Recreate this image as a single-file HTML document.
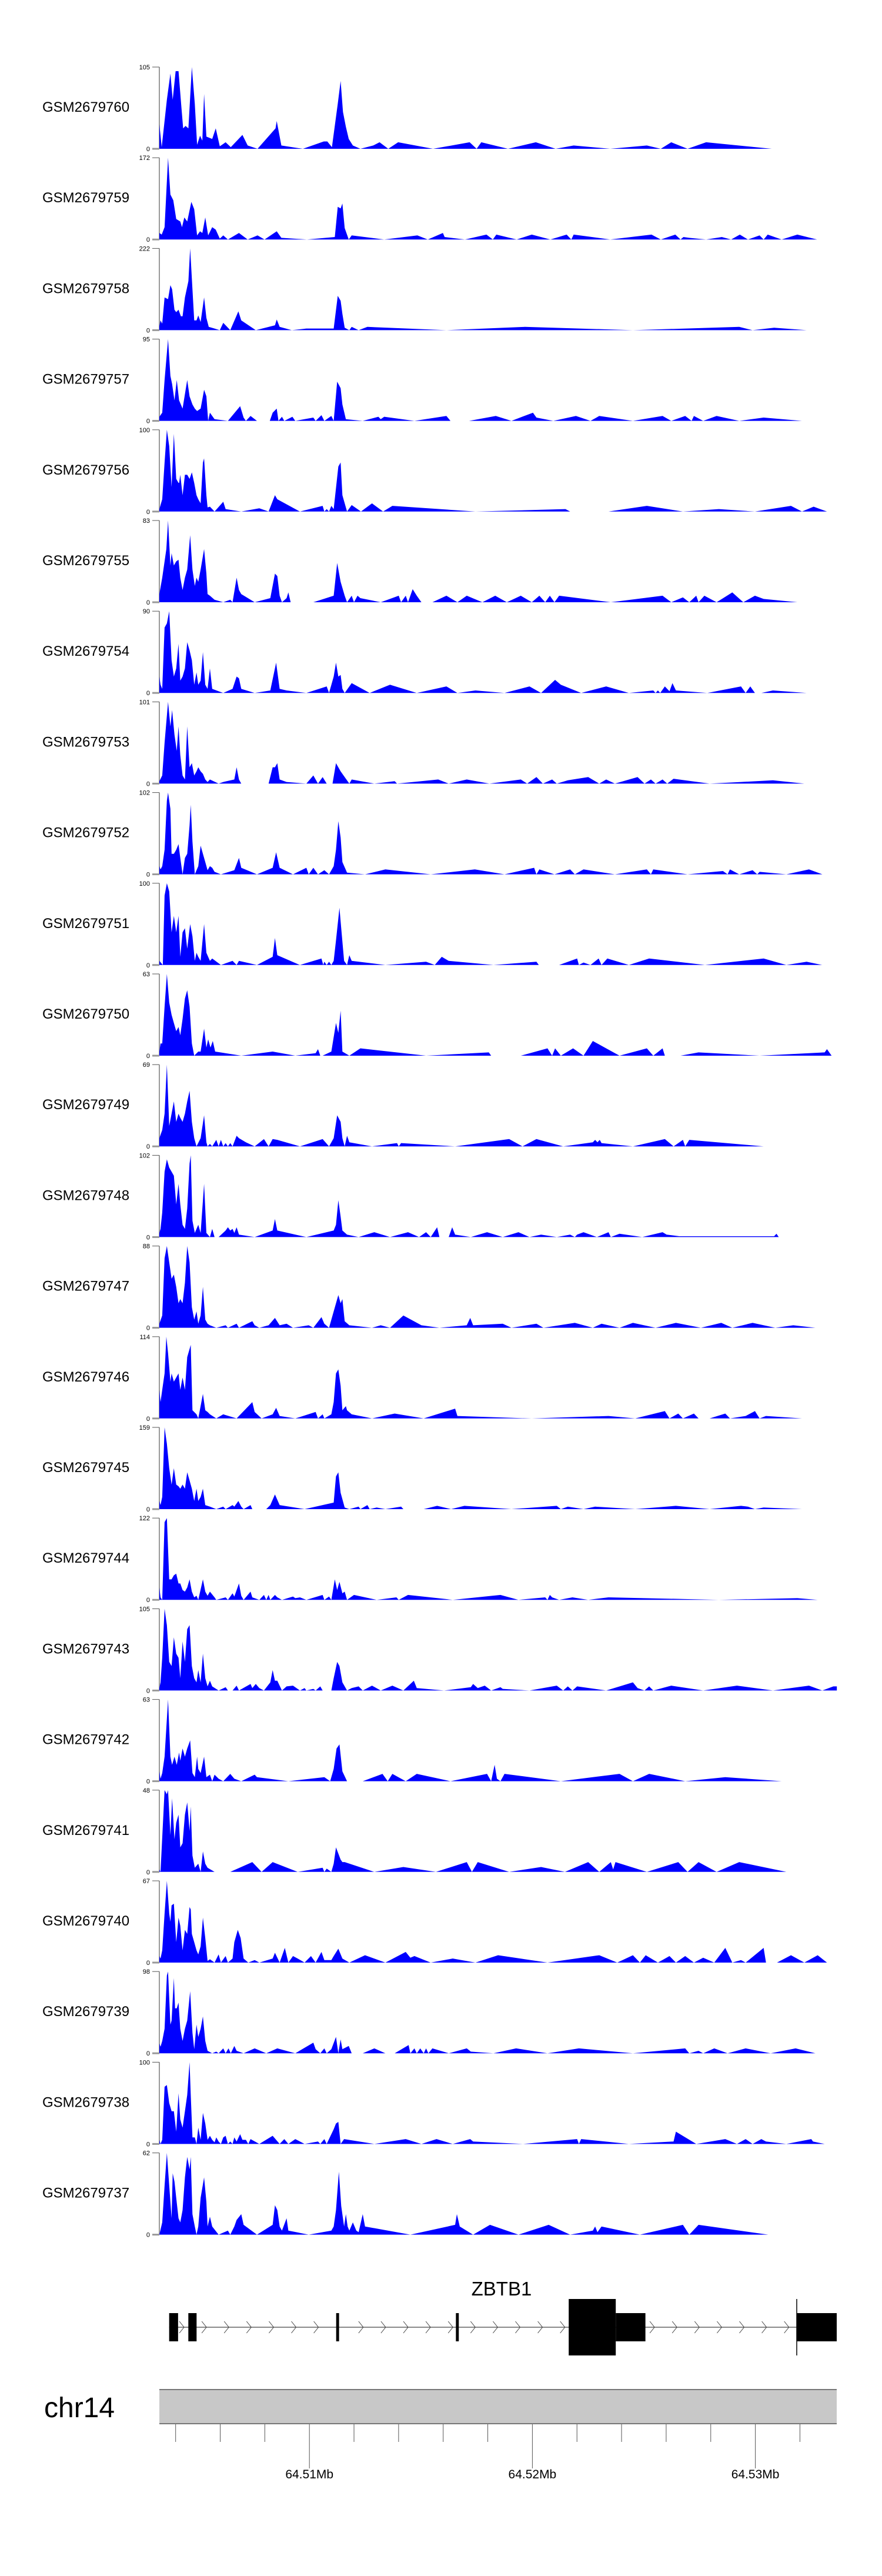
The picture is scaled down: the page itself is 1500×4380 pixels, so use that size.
<!DOCTYPE html>
<html><head><meta charset="utf-8"><style>
html,body{margin:0;padding:0;background:#fff;}
svg{display:block;font-family:"Liberation Sans",Arial,sans-serif;}
</style></head><body>
<svg id="chart" width="1500" height="4380" viewBox="0 0 1500 4380" xmlns="http://www.w3.org/2000/svg"></svg>
<script>
// ---- data ----
const sampleNames=["GSM2679760","GSM2679759","GSM2679758","GSM2679757","GSM2679756","GSM2679755","GSM2679754","GSM2679753","GSM2679752","GSM2679751","GSM2679750","GSM2679749","GSM2679748","GSM2679747","GSM2679746","GSM2679745","GSM2679744","GSM2679743","GSM2679742","GSM2679741","GSM2679740","GSM2679739","GSM2679738","GSM2679737"];
const yMaxLabels=[105,172,222,95,100,83,90,101,102,100,63,69,102,88,114,159,122,105,63,48,67,98,100,62];
const regionStartBp=64503270, regionEndBp=64533650, binSizeBp=26.06;
const axisTicksMb=[64.504,64.506,64.508,64.51,64.512,64.514,64.516,64.518,64.52,64.522,64.524,64.526,64.528,64.53,64.532];
const axisLabelsMb=[64.51,64.52,64.53];
// coverage as [genomic bin, % of track max]
const cov0=[[0,30],[4,2],[13,60],[19,92],[23,60],[28,95],[33,95],[38,50],[41,25],[45,28],[50,25],[56,100],[61,55],[65,5],[70,16],[74,10],[77,67],[81,15],[91,12],[97,25],[104,3],[114,8],[123,2],[143,17],[152,4],[169,0],[200,25],[202,34],[210,4],[247,0],[283,9],[289,9],[297,2],[307,55],[312,83],[316,45],[321,27],[326,12],[333,4],[346,0],[368,4],[379,8],[394,0],[411,8],[471,0],[534,8],[546,0],[554,8],[600,0],[648,8],[682,0],[713,4],[776,0],[839,4],[863,0],[881,8],[909,0],[941,8],[1054,0]];
const cov1=[[0,8],[4,6],[9,15],[15,100],[19,55],[24,48],[29,25],[36,22],[39,15],[43,27],[48,22],[55,46],[60,37],[65,5],[70,10],[74,8],[79,27],[84,5],[91,15],[97,12],[104,1],[110,5],[118,0],[137,8],[152,0],[169,5],[181,0],[202,10],[210,2],[254,0],[302,3],[307,40],[312,38],[315,44],[319,14],[326,0],[331,5],[387,0],[444,5],[462,0],[488,8],[491,3],[526,0],[563,6],[574,0],[580,6],[615,0],[641,6],[673,0],[701,6],[709,0],[713,6],[776,0],[847,6],[863,0],[888,6],[897,0],[902,3],[912,2],[941,0],[968,3],[984,0],[999,6],[1013,0],[1033,5],[1040,0],[1047,6],[1071,0],[1098,6],[1132,0]];
const cov2=[[0,5],[2,12],[5,8],[9,40],[15,38],[19,55],[22,50],[26,25],[29,22],[33,25],[37,17],[40,17],[44,40],[50,60],[53,100],[57,50],[60,12],[64,12],[67,18],[71,10],[77,40],[81,15],[85,4],[95,2],[104,0],[110,9],[122,0],[136,23],[141,12],[166,0],[199,6],[202,13],[207,4],[228,0],[253,2],[300,2],[307,42],[312,36],[315,20],[319,3],[327,0],[331,4],[343,0],[358,4],[494,0],[629,4],[815,0],[998,4],[1021,0],[1058,3],[1114,0]];
const cov3=[[0,5],[5,10],[9,50],[15,100],[19,55],[22,45],[26,25],[30,50],[34,25],[40,15],[48,50],[52,30],[57,20],[61,15],[65,12],[71,15],[77,38],[81,30],[84,0],[87,10],[95,2],[118,0],[139,18],[145,4],[149,0],[157,6],[168,0],[190,0],[195,10],[202,15],[205,0],[211,5],[215,0],[229,5],[234,0],[265,4],[269,0],[279,7],[284,0],[296,6],[300,0],[306,48],[312,40],[315,20],[321,2],[350,0],[377,5],[381,2],[387,5],[439,0],[494,6],[501,0],[533,0],[564,4],[579,6],[606,0],[643,10],[649,4],[678,0],[717,6],[742,0],[757,6],[815,0],[866,6],[881,0],[905,6],[916,0],[920,6],[936,0],[959,6],[998,0],[1040,4],[1106,0]];
const cov4=[[0,3],[5,15],[9,60],[13,100],[17,80],[21,30],[25,95],[29,40],[33,35],[34,35],[36,45],[40,20],[44,45],[48,45],[52,40],[56,48],[60,35],[64,20],[67,15],[71,10],[75,60],[77,65],[81,20],[83,5],[87,6],[95,0],[110,12],[114,3],[141,0],[172,4],[188,0],[199,20],[203,15],[242,0],[281,7],[284,0],[288,3],[292,0],[296,7],[300,3],[308,55],[312,60],[315,20],[323,0],[331,8],[347,0],[362,8],[366,10],[385,0],[401,7],[544,0],[699,3],[707,0],[773,0],[839,7],[901,0],[963,3],[1025,0],[1087,7],[1106,0],[1126,6],[1149,0]];
const cov5=[[0,10],[5,30],[9,50],[12,65],[15,100],[19,45],[21,60],[25,45],[29,50],[33,52],[36,30],[40,15],[44,30],[48,40],[53,82],[57,40],[61,20],[64,30],[67,25],[71,40],[77,65],[81,35],[83,10],[87,8],[95,3],[110,0],[122,3],[126,0],[133,30],[137,15],[141,10],[164,0],[191,5],[199,35],[203,32],[207,8],[211,0],[219,5],[222,12],[226,0],[265,0],[300,8],[306,48],[312,25],[319,8],[323,0],[331,8],[335,0],[341,8],[346,5],[381,0],[412,8],[416,0],[424,8],[428,0],[436,16],[443,8],[451,0],[470,0],[494,8],[513,0],[529,8],[556,0],[578,8],[598,0],[622,8],[641,0],[654,8],[664,0],[672,8],[680,0],[688,8],[777,0],[866,8],[881,0],[901,6],[912,0],[924,8],[928,0],[938,8],[959,0],[986,12],[1005,0],[1025,8],[1040,4],[1098,0]];
const cov6=[[0,20],[2,10],[5,5],[9,80],[13,85],[17,100],[21,40],[25,20],[29,30],[33,60],[36,15],[40,20],[44,30],[48,62],[52,52],[56,40],[60,10],[64,25],[67,10],[71,15],[75,50],[79,10],[83,5],[87,30],[91,5],[102,2],[110,0],[126,5],[133,20],[137,18],[141,5],[164,0],[191,3],[201,37],[207,5],[219,3],[253,0],[288,8],[292,0],[300,20],[304,37],[308,20],[312,22],[315,5],[319,0],[331,12],[362,0],[397,10],[443,0],[494,8],[513,0],[544,3],[594,0],[637,8],[657,0],[681,16],[691,10],[726,0],[769,8],[808,0],[850,3],[854,0],[858,3],[862,0],[870,8],[878,2],[883,12],[889,3],[943,0],[1001,8],[1009,0],[1017,8],[1025,0],[1036,0],[1056,3],[1114,0]];
const cov7=[[0,3],[5,10],[9,50],[15,100],[19,70],[22,90],[26,60],[30,40],[33,70],[36,35],[40,10],[44,5],[48,70],[52,20],[56,25],[60,10],[64,15],[67,20],[71,15],[75,12],[79,5],[83,2],[87,5],[102,0],[110,2],[129,5],[133,20],[137,5],[141,0],[188,0],[195,20],[199,20],[203,25],[207,5],[219,2],[253,0],[265,10],[269,5],[273,0],[281,8],[288,0],[298,0],[304,25],[308,20],[312,15],[319,8],[327,0],[331,5],[370,0],[405,3],[409,0],[480,5],[498,0],[529,5],[568,0],[622,5],[633,0],[649,8],[660,0],[676,5],[684,0],[703,4],[738,8],[757,0],[769,5],[784,0],[823,8],[835,0],[846,5],[854,0],[866,5],[874,0],[885,6],[947,0],[1001,2],[1056,4],[1110,0]];
const cov8=[[0,10],[2,6],[5,10],[9,30],[13,90],[15,100],[19,80],[21,25],[25,25],[29,30],[33,37],[36,20],[40,0],[44,20],[48,25],[52,60],[54,85],[57,40],[61,0],[67,10],[71,35],[75,25],[79,15],[83,5],[87,10],[91,8],[95,3],[106,0],[129,5],[137,20],[141,8],[168,0],[195,8],[201,27],[207,8],[230,0],[253,8],[257,0],[265,8],[273,0],[284,5],[292,0],[300,10],[304,30],[308,65],[312,45],[315,15],[323,2],[354,0],[389,6],[467,0],[543,6],[594,0],[645,8],[649,0],[654,6],[680,0],[707,6],[715,0],[730,6],[784,0],[839,6],[846,0],[850,6],[909,0],[970,4],[978,0],[982,6],[998,0],[1021,5],[1029,0],[1033,3],[1079,0],[1118,6],[1141,0]];
const cov9=[[0,5],[6,0],[9,85],[13,100],[17,90],[21,40],[25,60],[29,40],[33,60],[36,10],[40,40],[44,45],[48,20],[53,50],[57,35],[61,5],[64,15],[67,10],[71,5],[77,50],[81,15],[87,5],[91,8],[106,0],[126,5],[133,0],[137,5],[168,0],[195,10],[199,33],[203,12],[242,0],[279,8],[282,0],[284,4],[288,0],[292,4],[296,0],[300,5],[304,30],[310,70],[313,45],[318,5],[323,0],[327,12],[331,5],[389,0],[459,4],[474,0],[486,10],[498,5],[575,0],[649,4],[653,0],[688,0],[719,8],[722,0],[730,3],[742,0],[756,8],[761,0],[771,8],[808,0],[843,8],[939,0],[1040,8],[1079,0],[1114,4],[1141,0]];
const cov10=[[0,5],[2,15],[5,15],[9,60],[13,100],[17,65],[21,50],[25,40],[29,30],[33,35],[36,25],[40,45],[44,70],[48,80],[52,60],[56,15],[60,0],[67,5],[71,5],[77,33],[81,10],[84,20],[88,10],[92,18],[96,5],[141,0],[195,5],[234,0],[269,3],[273,8],[277,0],[281,0],[296,5],[304,40],[308,28],[312,55],[315,5],[327,0],[346,9],[459,0],[567,4],[571,0],[622,0],[668,9],[676,0],[681,9],[691,0],[712,9],[730,0],[746,18],[792,0],[839,9],[850,0],[866,9],[870,0],[897,0],[928,4],[1033,0],[1145,4],[1149,8],[1157,0]];
const cov11=[[0,10],[5,20],[9,40],[13,100],[17,25],[21,40],[25,55],[29,30],[33,40],[36,35],[40,30],[44,40],[48,55],[52,68],[56,30],[60,10],[64,0],[71,10],[77,38],[81,5],[83,0],[87,3],[91,0],[98,8],[102,0],[106,8],[110,0],[114,4],[118,0],[122,4],[126,0],[133,13],[137,10],[149,5],[164,0],[180,9],[188,0],[195,9],[203,8],[242,0],[281,9],[292,0],[300,10],[306,38],[312,30],[315,10],[319,0],[323,13],[327,5],[366,0],[409,4],[412,0],[416,4],[509,0],[602,9],[625,0],[649,9],[695,0],[746,5],[750,8],[754,5],[758,8],[761,4],[815,0],[870,9],[885,0],[901,8],[905,0],[912,8],[1040,0]];
const cov12=[[0,5],[2,10],[5,30],[9,80],[13,95],[17,85],[21,80],[25,75],[29,40],[33,65],[36,40],[40,15],[44,10],[48,35],[52,90],[54,100],[57,20],[61,5],[64,10],[67,15],[71,5],[77,65],[81,5],[87,0],[91,10],[95,0],[102,0],[114,8],[118,12],[122,8],[126,10],[129,5],[133,12],[137,3],[164,0],[195,8],[199,22],[203,8],[253,0],[300,8],[304,15],[308,45],[312,25],[315,8],[323,3],[343,0],[370,6],[397,0],[428,6],[447,0],[459,6],[467,0],[478,12],[482,0],[498,0],[504,12],[509,3],[536,0],[564,6],[591,0],[618,6],[637,0],[657,3],[684,0],[707,3],[715,0],[719,3],[730,6],[753,0],[773,6],[777,0],[792,4],[831,0],[866,6],[873,3],[895,1],[1058,1],[1062,4],[1066,0]];
const cov13=[[0,5],[5,15],[9,85],[13,100],[17,80],[21,60],[25,65],[29,50],[33,30],[36,35],[40,30],[44,55],[48,100],[52,80],[56,25],[60,10],[64,20],[67,5],[71,15],[75,50],[79,10],[83,5],[87,3],[98,0],[114,3],[118,0],[133,5],[137,0],[160,8],[164,3],[172,0],[188,3],[199,12],[207,3],[219,5],[230,0],[257,3],[265,0],[279,13],[284,5],[292,0],[300,20],[308,40],[312,30],[315,35],[319,8],[327,3],[366,0],[381,3],[397,0],[420,15],[451,3],[482,0],[529,3],[535,12],[540,3],[591,5],[606,0],[649,5],[661,0],[715,6],[746,0],[761,5],[792,0],[815,6],[854,0],[889,6],[932,0],[967,6],[986,0],[1021,6],[1060,0],[1091,3],[1129,0]];
const cov14=[[0,35],[2,20],[5,35],[9,55],[12,100],[15,80],[19,45],[21,55],[25,45],[29,50],[33,55],[36,35],[40,50],[44,35],[48,75],[52,85],[54,90],[57,10],[64,5],[67,0],[75,30],[79,10],[83,8],[87,5],[98,0],[110,5],[133,0],[160,20],[164,8],[176,0],[195,5],[201,13],[207,3],[234,0],[269,8],[273,0],[281,5],[284,0],[296,5],[300,20],[304,55],[308,60],[312,40],[315,10],[321,15],[323,10],[331,5],[366,0],[405,6],[455,0],[509,12],[513,3],[641,0],[773,3],[819,0],[870,9],[878,0],[893,6],[901,0],[920,6],[928,0],[947,0],[974,6],[982,0],[1009,3],[1025,9],[1033,0],[1044,3],[1106,0]];
const cov15=[[0,10],[2,5],[5,15],[9,100],[13,80],[17,50],[21,30],[25,50],[29,30],[33,28],[36,25],[40,30],[44,25],[48,45],[52,35],[56,25],[60,10],[64,25],[67,10],[71,15],[75,25],[79,5],[87,3],[98,0],[110,3],[114,0],[126,5],[129,3],[136,10],[141,3],[145,0],[157,5],[160,0],[184,0],[191,5],[199,18],[207,5],[250,0],[300,8],[304,40],[308,45],[312,20],[319,2],[327,0],[343,3],[346,0],[358,5],[362,0],[374,2],[389,0],[416,3],[420,0],[455,0],[478,4],[502,0],[525,4],[606,0],[684,4],[691,0],[703,3],[730,0],[750,3],[819,0],[889,4],[947,0],[1001,4],[1013,3],[1025,0],[1040,2],[1106,0]];
const cov16=[[0,15],[2,3],[5,0],[9,95],[13,100],[17,25],[21,25],[25,30],[29,32],[33,20],[36,20],[40,12],[44,10],[48,15],[52,25],[56,10],[60,3],[64,5],[67,0],[75,25],[79,10],[83,5],[87,10],[95,3],[98,0],[114,3],[118,0],[126,8],[129,4],[137,20],[141,5],[145,0],[157,10],[160,3],[172,0],[180,6],[184,0],[188,6],[191,0],[199,6],[203,3],[211,0],[230,4],[234,2],[242,3],[253,0],[281,6],[284,0],[292,4],[296,0],[302,25],[306,12],[310,22],[315,8],[319,10],[323,0],[335,6],[374,0],[408,3],[412,0],[428,6],[505,0],[587,6],[618,0],[664,3],[668,0],[672,6],[676,3],[688,0],[711,3],[738,0],[773,3],[963,0],[1098,2],[1133,0]];
const cov17=[[0,3],[2,10],[5,40],[9,100],[13,80],[17,35],[21,30],[25,65],[29,45],[33,40],[36,15],[40,60],[44,35],[48,75],[52,80],[56,30],[60,15],[64,10],[67,25],[71,10],[75,45],[79,15],[83,5],[87,12],[91,5],[102,0],[114,4],[118,0],[126,0],[133,6],[137,0],[157,8],[160,3],[166,8],[172,3],[180,0],[191,10],[195,25],[199,12],[203,12],[211,0],[219,5],[230,6],[242,0],[250,3],[253,0],[265,2],[269,0],[277,5],[281,0],[296,0],[300,15],[306,35],[310,30],[315,10],[323,0],[331,3],[343,5],[350,0],[366,6],[381,0],[401,6],[420,0],[438,12],[443,3],[490,0],[536,4],[540,8],[548,3],[560,6],[571,0],[587,4],[591,2],[637,0],[684,6],[695,0],[703,5],[711,0],[719,5],[769,0],[815,10],[823,3],[835,0],[843,5],[850,0],[881,6],[936,0],[994,6],[1056,0],[1118,6],[1141,0],[1160,5],[1166,5],[1166,0]];
const cov18=[[0,12],[2,3],[5,10],[9,30],[15,100],[19,30],[22,20],[26,30],[30,20],[34,35],[36,25],[40,40],[44,30],[48,40],[53,50],[57,10],[61,5],[65,30],[67,15],[71,10],[77,30],[81,5],[87,8],[91,0],[95,8],[102,3],[110,0],[122,9],[129,3],[141,0],[164,8],[168,5],[222,0],[284,5],[294,0],[300,15],[305,40],[310,45],[315,12],[323,0],[350,0],[384,9],[393,0],[401,9],[424,0],[443,9],[501,0],[564,9],[571,0],[577,20],[581,3],[587,0],[594,9],[691,0],[792,9],[815,0],[843,9],[905,0],[974,5],[1071,0]];
const cov19=[[0,3],[2,0],[9,100],[13,95],[15,100],[19,45],[22,90],[26,40],[29,60],[33,70],[36,30],[40,35],[44,70],[48,85],[52,50],[54,80],[57,20],[61,5],[67,10],[71,0],[75,25],[79,10],[83,5],[95,0],[122,0],[160,12],[176,0],[195,12],[238,0],[281,5],[284,0],[288,4],[296,0],[300,10],[304,30],[312,15],[315,12],[319,12],[370,0],[420,6],[476,0],[529,12],[538,0],[548,12],[602,0],[657,6],[698,0],[738,12],[757,0],[777,12],[781,3],[785,12],[839,0],[893,12],[909,0],[928,12],[959,0],[998,12],[1079,0]];
const cov20=[[0,8],[2,5],[5,15],[9,60],[13,100],[17,60],[19,50],[21,70],[25,72],[29,25],[33,55],[36,45],[40,15],[44,40],[48,35],[52,68],[54,65],[56,35],[60,25],[64,15],[67,10],[71,20],[75,55],[79,30],[83,2],[87,4],[95,0],[102,10],[106,0],[114,8],[118,0],[126,5],[129,25],[135,40],[140,30],[145,5],[153,0],[164,3],[172,0],[195,5],[199,12],[207,0],[216,18],[222,0],[230,8],[238,5],[250,0],[261,8],[269,0],[279,13],[284,3],[296,3],[300,8],[308,17],[315,5],[327,0],[354,9],[389,0],[424,13],[432,6],[439,8],[467,0],[505,5],[544,0],[583,9],[668,0],[757,9],[788,0],[815,9],[827,0],[837,9],[858,0],[878,8],[889,0],[905,8],[920,0],[936,6],[955,0],[974,18],[986,0],[1001,3],[1009,0],[1040,18],[1044,0],[1063,0],[1087,9],[1110,0],[1133,9],[1149,0]];
const cov21=[[0,12],[2,8],[5,15],[9,30],[13,95],[15,100],[19,35],[21,40],[25,92],[27,55],[30,55],[33,62],[36,30],[40,15],[44,30],[48,40],[53,76],[57,25],[60,5],[64,35],[67,20],[71,30],[75,45],[79,15],[83,3],[91,0],[98,2],[102,0],[110,6],[114,0],[119,6],[123,0],[129,9],[133,3],[145,0],[164,6],[184,0],[203,6],[234,0],[265,13],[269,5],[277,0],[284,6],[288,0],[296,5],[304,20],[308,0],[312,17],[315,5],[326,9],[331,0],[350,0],[370,6],[389,0],[405,0],[429,10],[432,0],[439,6],[443,0],[449,6],[455,0],[459,6],[463,0],[470,6],[498,0],[529,6],[536,2],[575,0],[614,6],[668,0],[722,6],[815,0],[905,6],[912,0],[928,3],[936,0],[955,6],[978,0],[1009,6],[1052,0],[1095,6],[1129,0]];
const cov22=[[0,5],[2,0],[5,5],[9,70],[13,72],[17,50],[21,40],[25,40],[29,15],[33,62],[36,30],[40,20],[44,40],[48,60],[52,100],[54,60],[57,8],[61,8],[64,0],[67,20],[71,5],[75,38],[79,25],[83,5],[87,10],[91,5],[95,2],[98,8],[102,3],[106,0],[110,8],[114,10],[118,0],[122,3],[126,0],[129,8],[133,3],[139,12],[143,5],[149,5],[153,0],[157,6],[172,0],[195,10],[207,0],[215,6],[222,0],[234,6],[250,0],[273,3],[277,0],[284,6],[288,0],[300,18],[304,25],[308,27],[312,0],[318,6],[370,0],[424,6],[451,0],[477,6],[505,0],[535,6],[540,3],[626,0],[719,6],[722,0],[726,6],[808,0],[885,3],[889,15],[924,0],[974,6],[994,0],[1009,6],[1021,0],[1036,6],[1044,3],[1079,0],[1122,6],[1125,3],[1145,0]];
const cov23=[[0,0],[5,15],[9,60],[13,100],[17,60],[21,20],[23,75],[26,65],[29,45],[33,20],[36,15],[40,30],[44,70],[48,95],[52,80],[54,95],[57,25],[61,10],[64,0],[67,10],[71,45],[77,70],[81,40],[83,10],[87,22],[91,10],[102,0],[118,5],[122,0],[129,10],[133,18],[141,25],[145,12],[168,0],[195,12],[199,36],[203,30],[207,10],[211,5],[219,20],[222,5],[257,0],[296,5],[300,10],[304,30],[309,77],[313,35],[318,10],[321,25],[324,10],[327,5],[333,15],[339,5],[343,3],[350,25],[354,10],[432,0],[509,12],[512,25],[517,10],[540,0],[569,12],[618,0],[670,12],[707,0],[746,5],[750,10],[754,3],[761,10],[827,0],[901,12],[912,0],[928,12],[1048,0]];
const coverage=[cov0,cov1,cov2,cov3,cov4,cov5,cov6,cov7,cov8,cov9,cov10,cov11,cov12,cov13,cov14,cov15,cov16,cov17,cov18,cov19,cov20,cov21,cov22,cov23];
// gene model (bp)
const exonStartsBp=[64503710,64504570,64511200,64516570,64521630,64523740,64531857];
const exonEndsBp=[64504110,64504940,64511330,64516700,64523740,64525070,64533650];
const exonIsCoding=[0,0,0,0,1,0,0];

// ---- layout / scales ----
const NS="http://www.w3.org/2000/svg";
const svg=document.getElementById("chart");
const X0=271,X1=1423,TRACK_H=139,FIRST_BASE=253,PITCH=154.2;
function xScale(bp){return X0+(bp-regionStartBp)/(regionEndBp-regionStartBp)*(X1-X0);}
function binToBp(b){return regionStartBp+b*binSizeBp;}
function yScale(pct,i){const base=FIRST_BASE+i*PITCH;return base-pct/100*TRACK_H;}
function mk(tag,attrs,parent){const e=document.createElementNS(NS,tag);for(const k in attrs)e.setAttribute(k,attrs[k]);(parent||svg).appendChild(e);return e;}

coverage.forEach((pts,i)=>{
  const base=FIRST_BASE+i*PITCH, top=base-TRACK_H;
  const g=mk("g",{});
  
  
  const lab=mk("text",{x:72,y:top+76,"font-size":24,fill:"#000"},g);
  lab.textContent=sampleNames[i];
  
  
  const ax=mk("line",{x1:X0,y1:top,x2:X0,y2:base,stroke:"#999","stroke-width":2},g);
  
  
  mk("line",{x1:259,y1:top,x2:X0,y2:top,stroke:"#555","stroke-width":1},g);
  mk("line",{x1:259,y1:base,x2:X0,y2:base,stroke:"#999","stroke-width":3},g);
  const tmax=mk("text",{x:255,y:top+4,"font-size":11,"text-anchor":"end",fill:"#000"},g);
  tmax.textContent=yMaxLabels[i];
  
  
  const t0=mk("text",{x:255,y:base+4,"font-size":11,"text-anchor":"end",fill:"#000"},g);
  t0.textContent="0";
  
  
  let d="M"+xScale(binToBp(pts[0][0])).toFixed(1)+","+base;
  pts.forEach(p=>{d+=" L"+xScale(binToBp(p[0])).toFixed(1)+","+yScale(p[1],i).toFixed(1);});
  d+=" L"+xScale(binToBp(pts[pts.length-1][0])).toFixed(1)+","+base+" Z";
  const area=mk("path",{d:d,fill:"#0000ff",stroke:"none"},g);
  
  
});

// gene track
const geneG=mk("g",{});


const GY=3957;
const gname=mk("text",{x:853,y:3903,"font-size":33,"text-anchor":"middle",fill:"#000"},geneG);
gname.textContent="ZBTB1";


mk("line",{x1:xScale(exonStartsBp[0]),y1:GY,x2:X1,y2:GY,stroke:"#444","stroke-width":1.2},geneG);
for(let cx=309;cx<1345;cx+=38.1){
  let inEx=false;
  for(let k=0;k<exonStartsBp.length;k++){if(cx>xScale(exonStartsBp[k])-4&&cx<xScale(exonEndsBp[k])+4)inEx=true;}
  if(inEx)continue;
  const c=mk("path",{d:`M${cx-4},${GY-10} L${cx+4},${GY} L${cx-4},${GY+10}`,fill:"none",stroke:"#444","stroke-width":1},geneG);
  
  
}
exonStartsBp.forEach((s,k)=>{
  const x1=xScale(s),x2=xScale(exonEndsBp[k]);
  const h=exonIsCoding[k]?96:48;
  const r=mk("rect",{x:x1,y:GY-h/2,width:Math.max(4,x2-x1),height:h,fill:"#000"},geneG);
  
  
});
const tl=xScale(exonStartsBp[6]);
mk("line",{x1:tl,y1:3909,x2:tl,y2:4005,stroke:"#000","stroke-width":1.5},geneG);

// chromosome axis
const axG=mk("g",{});


const chr=mk("text",{x:75,y:4110,"font-size":48,fill:"#000"},axG);
chr.textContent="chr14";


const bar=mk("rect",{x:X0,y:4063,width:X1-X0,height:58,fill:"#c8c8c8"},axG);


mk("line",{x1:X0,y1:4063,x2:X1,y2:4063,stroke:"#777","stroke-width":2},axG);
mk("line",{x1:X0,y1:4121,x2:X1,y2:4121,stroke:"#777","stroke-width":2},axG);
axisTicksMb.forEach(mb=>{
  const x=xScale(mb*1e6);
  const major=axisLabelsMb.some(v=>Math.abs(v-mb)<1e-6);
  const t=mk("line",{x1:x,y1:4122,x2:x,y2:major?4197:4152,stroke:"#555","stroke-width":1},axG);
  
  
});
axisLabelsMb.forEach(mb=>{
  const t=mk("text",{x:xScale(mb*1e6),y:4214,"font-size":21,"text-anchor":"middle",fill:"#000"},axG);
  t.textContent=mb.toFixed(2)+"Mb";
  
  
});
</script>
</body></html>
